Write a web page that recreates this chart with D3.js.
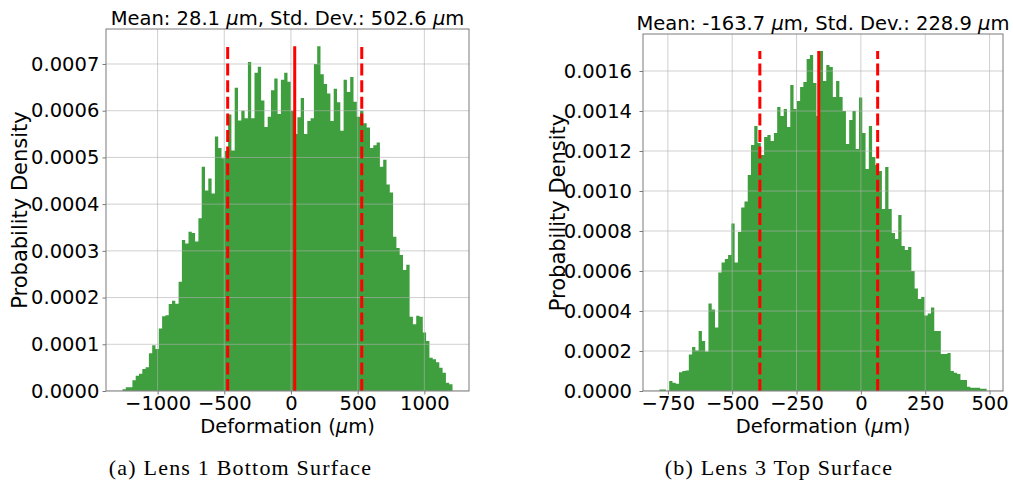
<!DOCTYPE html>
<html>
<head>
<meta charset="utf-8">
<script src="https://cdn.jsdelivr.net/npm/d3@7"></script>
<style>
  body { margin: 0; background: #fff; }
  svg { display: block; }
</style>
</head>
<body>
<svg id="fig" width="1013" height="485"></svg>
<script>
// ---- Lens 1 bottom surface: 100-bin probability density histogram ----
const lens1Range = [-1263, 1211];
const lens1Density = [
  0.0000036, 0.0000079, 0.0000079, 0.0000229, 0.0000328, 0.000037, 0.000047, 0.0000507, 0.0000807, 0.0000979,
  0.00009, 0.000134, 0.00016, 0.000162, 0.000186, 0.000193, 0.000187, 0.000234, 0.000323, 0.000316,
  0.000341, 0.000338, 0.00032, 0.00037, 0.00048, 0.000429, 0.000455, 0.000423, 0.000545, 0.00052,
  0.000498, 0.000514, 0.000592, 0.000515, 0.000649, 0.000579, 0.0006, 0.000584, 0.000704, 0.000584,
  0.000681, 0.000694, 0.000622, 0.000565, 0.000587, 0.000644, 0.000669, 0.000593, 0.000666, 0.000681,
  0.000662, 0.0006, 0.00055, 0.000586, 0.000627, 0.00055, 0.000578, 0.000584, 0.0007, 0.000738,
  0.000678, 0.000657, 0.000637, 0.000578, 0.000647, 0.000618, 0.000557, 0.000666, 0.00064, 0.000672,
  0.000619, 0.000587, 0.0006, 0.000573, 0.000564, 0.00052, 0.000526, 0.000532, 0.00048, 0.000495,
  0.000442, 0.000425, 0.00033, 0.000306, 0.000291, 0.000259, 0.00027, 0.000159, 0.000143, 0.000161,
  0.000159, 0.000125, 0.000107, 0.0000713, 0.0000679, 0.0000614, 0.0000499, 0.0000392, 0.0000178, 0.0000143
];
const lens1Mean = 28.1;
const lens1Std = 502.6;
const lens1XTicks = [-1000, -500, 0, 500, 1000];
const lens1YTicks = [0, 0.0001, 0.0002, 0.0003, 0.0004, 0.0005, 0.0006, 0.0007];

// ---- Lens 3 top surface: 100-bin probability density histogram ----
const lens3Range = [-783, 488.6];
const lens3Density = [
  0.000007, 0.000007, 0, 0.00005, 0.0000417, 0.0000367, 0.0000933, 0.0001, 0.000103, 0.000183,
  0.00022, 0.000202, 0.0003, 0.00025, 0.000198, 0.000437, 0.000408, 0.000318, 0.000592, 0.000642,
  0.00066, 0.00068, 0.000838, 0.000643, 0.000795, 0.000918, 0.000947, 0.00108, 0.00123, 0.001325,
  0.00124, 0.00118, 0.00127, 0.00128, 0.00125, 0.00129, 0.00142, 0.001375, 0.00141, 0.00132,
  0.00153, 0.00141, 0.00145, 0.00152, 0.001545, 0.00166, 0.00168, 0.00154, 0.001375, 0.0017,
  0.00155, 0.00163, 0.00162, 0.00147, 0.00155, 0.00147, 0.0014, 0.001235, 0.001355, 0.0014,
  0.00121, 0.001467, 0.00129, 0.00111, 0.001325, 0.00117, 0.00113, 0.0011, 0.00091, 0.00112,
  0.00091, 0.00079, 0.00076, 0.00088, 0.000725, 0.000705, 0.00072, 0.0006, 0.000513, 0.00046,
  0.00047, 0.000377, 0.000388, 0.000418, 0.0003, 0.0003, 0.000185, 0.000185, 0.00019, 0.0001,
  0.0000917, 0.000085, 0.000055, 0.000055, 0.0000217, 0.0000167, 0.0000167, 0.0000167, 0.0000117, 0.0000117
];
const lens3Mean = -163.7;
const lens3Std = 228.9;
const lens3XTicks = [-750, -500, -250, 0, 250, 500];
const lens3YTicks = [0, 0.0002, 0.0004, 0.0006, 0.0008, 0.0010, 0.0012, 0.0014, 0.0016];

const FONT = "'DejaVu Sans', sans-serif";
const FS = 19.5;
const FS_YLABEL = 21;

const panels = [
  {
    id: "a", density: lens1Density, range: lens1Range, mean: lens1Mean, std: lens1Std,
    xTicks: lens1XTicks, yTicks: lens1YTicks,
    left: 106, right: 469, top: 29, bottom: 391,
    yPad: 3.2, yLabelX: 27, caption: "(a) Lens 1 Bottom Surface", captionX: 240.5
  },
  {
    id: "b", density: lens3Density, range: lens3Range, mean: lens3Mean, std: lens3Std,
    xTicks: lens3XTicks, yTicks: lens3YTicks,
    left: 643, right: 1003, top: 34, bottom: 391,
    yPad: 7.5, yLabelX: 565, caption: "(b) Lens 3 Top Surface", captionX: 779
  }
];

const svg = d3.select("#fig");
svg.append("rect").attr("width", 1013).attr("height", 485).attr("fill", "#fff");

function drawPanel(p) {
  const n = p.density.length;
  const binW = (p.range[1] - p.range[0]) / n;
  const bins = p.density.map((d, i) => ({
    x0: p.range[0] + i * binW,
    x1: p.range[0] + (i + 1) * binW,
    d
  }));
  const span = p.range[1] - p.range[0];
  const ymax = d3.max(p.density);

  const x = d3.scaleLinear()
    .domain([p.range[0] - 0.05 * span, p.range[1] + 0.05 * span])
    .range([p.left, p.right]);
  const y = d3.scaleLinear()
    .domain([0, ymax * 1.05])
    .range([p.bottom, p.top]);

  const g = svg.append("g").attr("class", "panel-" + p.id);

  g.append("clipPath").attr("id", "clip-" + p.id)
    .append("rect")
    .attr("x", p.left).attr("y", p.top)
    .attr("width", p.right - p.left).attr("height", p.bottom - p.top);

  const plot = g.append("g").attr("clip-path", `url(#clip-${p.id})`);

  // histogram drawn as one stepped area so neighbouring bars don't show seams
  const stepPts = bins.map(b => ({ x: b.x0, d: b.d }))
    .concat([{ x: bins[n - 1].x1, d: bins[n - 1].d }]);
  const area = d3.area()
    .curve(d3.curveStepAfter)
    .x(d => x(d.x))
    .y0(y(0))
    .y1(d => y(d.d));
  plot.append("path")
    .datum(stepPts)
    .attr("d", area)
    .attr("fill", "#3f9f3f");

  // grid over the bars
  const grid = plot.append("g")
    .attr("stroke", "#b0b0b0")
    .attr("stroke-opacity", 0.6)
    .attr("stroke-width", 1);
  grid.selectAll("line.gx").data(p.xTicks).join("line")
    .attr("class", "gx")
    .attr("x1", d => x(d)).attr("x2", d => x(d))
    .attr("y1", p.top).attr("y2", p.bottom);
  grid.selectAll("line.gy").data(p.yTicks).join("line")
    .attr("class", "gy")
    .attr("x1", p.left).attr("x2", p.right)
    .attr("y1", d => y(d)).attr("y2", d => y(d));

  // mean (solid) and mean ± std (dashed)
  const marks = [
    { v: p.mean, dash: null },
    { v: p.mean - p.std, dash: "12,4.6" },
    { v: p.mean + p.std, dash: "12,4.6" }
  ];
  plot.append("g").selectAll("line")
    .data(marks)
    .join("line")
    .attr("x1", d => x(d.v)).attr("x2", d => x(d.v))
    .attr("y1", y(0)).attr("y2", y(ymax))
    .attr("stroke", "#ff0000")
    .attr("stroke-width", 3)
    .attr("stroke-dasharray", d => d.dash);

  // axes
  const xAxis = d3.axisBottom(x)
    .tickValues(p.xTicks)
    .tickSize(3.5)
    .tickPadding(2)
    .tickFormat(d3.format("d"));
  const yAxis = d3.axisLeft(y)
    .tickValues(p.yTicks)
    .tickSize(3.5)
    .tickPadding(p.yPad)
    .tickFormat(d3.format(".4f"));

  const gx = g.append("g").attr("transform", `translate(0,${p.bottom})`).call(xAxis);
  const gy = g.append("g").attr("transform", `translate(${p.left},0)`).call(yAxis);
  [gx, gy].forEach(ax => {
    ax.select(".domain").remove();
    ax.selectAll(".tick line").attr("stroke", "#7a7a7a");
    ax.selectAll(".tick text")
      .attr("fill", "#000")
      .style("font-family", FONT)
      .style("font-size", FS + "px");
  });

  // frame
  g.append("rect")
    .attr("x", p.left).attr("y", p.top)
    .attr("width", p.right - p.left).attr("height", p.bottom - p.top)
    .attr("fill", "none")
    .attr("stroke", "#7a7a7a")
    .attr("stroke-width", 1);

  const cx = (p.left + p.right) / 2;

  // title
  const title = g.append("text")
    .attr("x", cx).attr("y", p.top - 4.5)
    .attr("text-anchor", "middle")
    .style("font-family", FONT).style("font-size", FS + "px")
    .attr("fill", "#000");
  title.append("tspan").text(`Mean: ${p.mean.toFixed(1)} `);
  title.append("tspan").style("font-style", "italic").text("\u03bc");
  title.append("tspan").text(`m, Std. Dev.: ${p.std.toFixed(1)} `);
  title.append("tspan").style("font-style", "italic").text("\u03bc");
  title.append("tspan").text("m");

  // x label
  const xl = g.append("text")
    .attr("x", cx).attr("y", 433)
    .attr("text-anchor", "middle")
    .style("font-family", FONT).style("font-size", FS + "px")
    .attr("fill", "#000");
  xl.append("tspan").text("Deformation (");
  xl.append("tspan").style("font-style", "italic").text("\u03bc");
  xl.append("tspan").text("m)");

  // y label
  g.append("text")
    .attr("transform", `translate(${p.yLabelX},${(p.top + p.bottom) / 2}) rotate(-90)`)
    .attr("text-anchor", "middle")
    .style("font-family", FONT).style("font-size", FS_YLABEL + "px")
    .attr("fill", "#000")
    .text("Probability Density");

  // caption
  g.append("text")
    .attr("x", p.captionX).attr("y", 475)
    .attr("text-anchor", "middle")
    .style("font-family", "'Liberation Serif', serif")
    .style("font-size", "22px")
    .style("letter-spacing", "1.2px")
    .attr("fill", "#000")
    .text(p.caption);
}

panels.forEach(drawPanel);
</script>
</body>
</html>
